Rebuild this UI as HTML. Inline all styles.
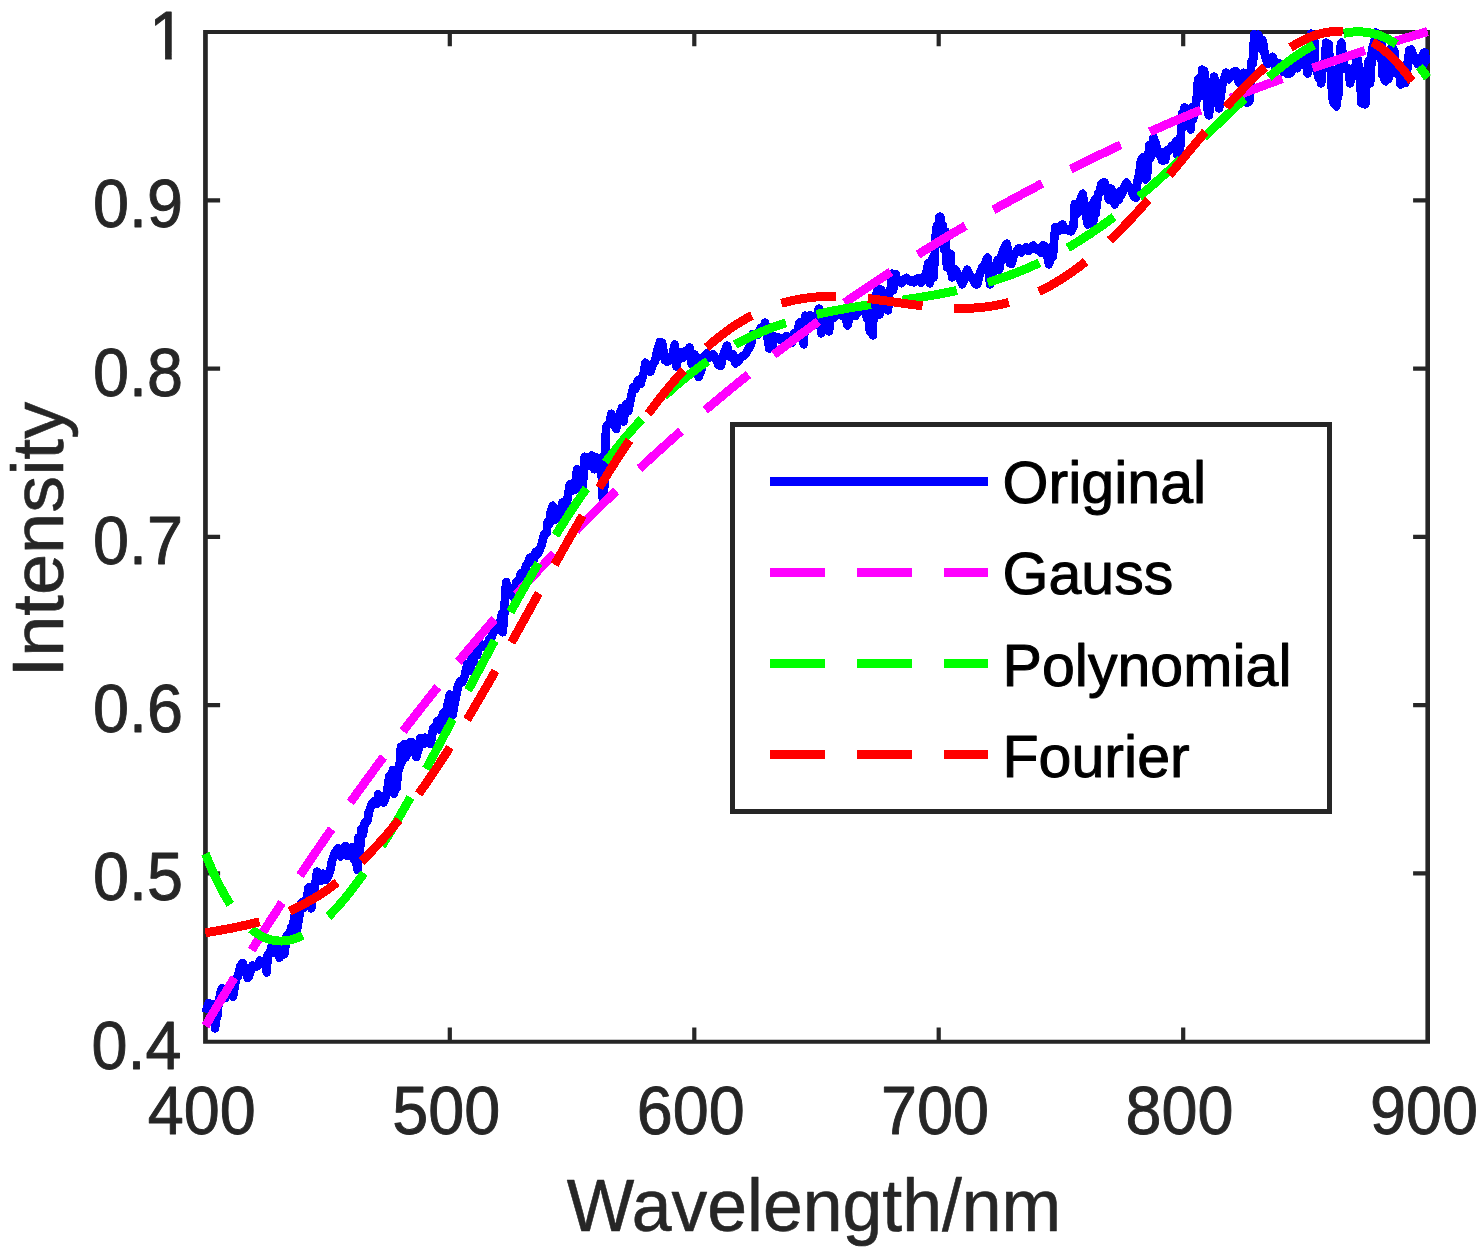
<!DOCTYPE html>
<html lang="en"><head><meta charset="utf-8"><title>Spectrum fitting comparison</title>
<style>html,body{margin:0;padding:0;background:#fff}body{width:1482px;height:1253px;overflow:hidden}svg{display:block}text{font-family:"Liberation Sans",sans-serif}</style>
</head><body>
<svg width="1482" height="1253" viewBox="0 0 1482 1253">
<rect width="1482" height="1253" fill="#fff"/>
<path fill="#262626" d="M203.1 30.0H207.8V1043.8H203.1Z M1425.4 30.0H1430.0V1043.8H1425.4Z M203.1 30.0H1430.0V34.0H203.1Z M203.1 1039.7H1430.0V1043.8H203.1Z M447.7 1027.4H451.9V1040.7H447.7Z M447.7 33.0H451.9V46.3H447.7Z M692.2 1027.4H696.4V1040.7H692.2Z M692.2 33.0H696.4V46.3H692.2Z M936.6 1027.4H940.8V1040.7H936.6Z M936.6 33.0H940.8V46.3H936.6Z M1181.1 1027.4H1185.3V1040.7H1181.1Z M1181.1 33.0H1185.3V46.3H1181.1Z M206.8 871.3H220.1V875.5H206.8Z M1413.1 871.3H1426.4V875.5H1413.1Z M206.8 703.0H220.1V707.2H206.8Z M1413.1 703.0H1426.4V707.2H1413.1Z M206.8 534.7H220.1V538.9H206.8Z M1413.1 534.7H1426.4V538.9H1413.1Z M206.8 366.5H220.1V370.7H206.8Z M1413.1 366.5H1426.4V370.7H1413.1Z M206.8 198.2H220.1V202.4H206.8Z M1413.1 198.2H1426.4V202.4H1413.1Z"/>
<g font-size="68.3" fill="#262626" stroke="#262626" stroke-width="0.9" stroke-linejoin="round">
<text transform="translate(181.5 1068.6) scale(0.948 1)" text-anchor="end">0.4</text>
<text transform="translate(183.0 900.3) scale(0.948 1)" text-anchor="end">0.5</text>
<text transform="translate(183.0 732.0) scale(0.948 1)" text-anchor="end">0.6</text>
<text transform="translate(183.0 563.7) scale(0.948 1)" text-anchor="end">0.7</text>
<text transform="translate(183.0 395.5) scale(0.948 1)" text-anchor="end">0.8</text>
<text transform="translate(183.0 227.2) scale(0.948 1)" text-anchor="end">0.9</text>
<clipPath id="one"><path d="M140 0H200V52.8H171.7V64H165.1V52.8H140Z"/></clipPath>
<g clip-path="url(#one)">
<text transform="translate(185.2 58.9) scale(0.948 1)" text-anchor="end">1</text>
</g>
<text transform="translate(201.8 1134.3) scale(0.948 1)" text-anchor="middle">400</text>
<text transform="translate(446.2 1134.3) scale(0.948 1)" text-anchor="middle">500</text>
<text transform="translate(690.7 1134.3) scale(0.948 1)" text-anchor="middle">600</text>
<text transform="translate(935.1 1134.3) scale(0.948 1)" text-anchor="middle">700</text>
<text transform="translate(1179.6 1134.3) scale(0.948 1)" text-anchor="middle">800</text>
<text transform="translate(1424.0 1134.3) scale(0.948 1)" text-anchor="middle">900</text>
</g>
<g font-size="74" fill="#262626" stroke="#262626" stroke-width="0.6" stroke-linejoin="round" text-anchor="middle">
<text transform="translate(814.0 1230.7) scale(0.967 1)">Wavelength/nm</text>
<text transform="translate(63.4 539.6) scale(0.967 1) rotate(-90)">Intensity</text>
</g>
<clipPath id="plot"><rect x="201.6" y="26" width="1228.8" height="1018"/></clipPath>
<g clip-path="url(#plot)">
<g fill="none" stroke-width="8.7" stroke-linejoin="round" shape-rendering="crispEdges" transform="scale(1 1.030)">
<path stroke="#0000ff" d="M205.6 983.20 L208.6 973.93 L210.0 974.56 L213.5 975.44 L215.0 998.25 L216.0 987.84 L217.2 987.11 L218.4 974.64 L220.0 966.80 L220.8 962.93 L222.1 959.36 L223.3 968.67 L225.0 968.94 L228.2 964.23 L230.0 961.36 L233.0 967.39 L236.0 950.29 L237.9 948.26 L240.5 937.67 L242.8 935.04 L245.0 942.21 L247.7 949.25 L249.0 947.77 L250.1 943.67 L252.3 937.67 L255.0 938.30 L258.0 937.74 L259.9 932.73 L262.0 933.67 L264.8 933.56 L266.6 943.88 L267.8 926.99 L269.6 925.85 L272.1 917.88 L275.0 925.21 L277.0 922.68 L279.4 929.73 L281.0 917.67 L284.3 926.34 L286.7 908.29 L288.0 912.82 L290.0 905.29 L291.6 899.95 L293.0 897.86 L294.0 892.95 L295.3 885.43 L296.5 905.06 L299.0 890.66 L301.5 876.50 L303.8 881.62 L306.0 876.15 L308.7 861.63 L309.9 877.19 L311.3 881.75 L312.3 873.43 L313.0 861.94 L313.6 869.00 L314.8 861.69 L316.0 853.27 L317.2 846.34 L318.0 848.35 L320.9 855.35 L323.0 848.48 L325.8 854.14 L328.2 850.68 L330.6 843.35 L332.0 835.99 L335.0 827.96 L338.0 823.88 L340.4 831.30 L343.0 825.05 L345.3 821.55 L347.7 830.94 L350.0 828.93 L352.6 822.42 L353.8 834.38 L355.0 824.54 L356.3 828.21 L356.9 840.97 L357.5 844.42 L358.4 813.40 L359.9 825.43 L361.4 805.15 L362.4 810.96 L363.6 806.66 L364.8 798.95 L367.5 796.99 L368.7 788.83 L372.1 780.10 L374.6 777.86 L376.7 780.58 L378.3 771.36 L379.4 774.01 L381.9 772.97 L383.7 779.13 L387.0 768.93 L389.2 753.95 L391.8 764.27 L392.9 747.56 L394.1 770.27 L395.3 758.86 L396.5 765.11 L397.4 756.02 L399.0 742.72 L400.2 743.59 L400.9 725.24 L402.6 738.28 L403.8 722.82 L406.0 734.95 L408.7 722.03 L411.0 720.39 L413.6 724.44 L416.2 734.95 L418.5 726.94 L420.3 716.80 L423.0 722.33 L424.9 716.31 L428.2 717.29 L430.7 722.24 L433.1 707.22 L435.1 708.06 L437.6 699.90 L440.4 708.35 L442.9 693.36 L443.9 691.75 L445.3 697.60 L447.0 687.38 L449.8 674.27 L452.6 693.96 L454.9 681.07 L458.0 666.02 L460.0 661.63 L462.4 661.89 L463.7 658.93 L464.8 655.86 L467.3 645.10 L470.1 650.78 L472.2 628.33 L473.4 642.62 L474.6 628.61 L475.7 634.37 L477.0 636.09 L479.5 624.19 L481.9 627.83 L484.0 626.80 L486.8 629.24 L489.2 620.78 L491.3 619.22 L494.1 611.08 L496.6 609.41 L497.7 610.97 L499.0 610.22 L500.6 602.82 L501.9 596.31 L502.7 613.72 L503.9 601.42 L504.7 586.41 L506.1 565.15 L507.5 576.79 L508.8 576.68 L511.6 573.30 L513.6 579.72 L516.1 565.80 L519.2 563.50 L520.9 556.99 L523.4 561.30 L525.9 549.61 L528.3 545.74 L530.1 541.46 L533.2 545.19 L536.0 535.63 L538.0 537.44 L541.5 529.13 L542.9 523.73 L544.1 519.28 L545.4 518.45 L546.6 517.28 L547.8 506.89 L549.3 509.03 L550.3 499.03 L552.7 491.12 L554.0 501.46 L555.1 504.49 L557.5 497.57 L560.0 501.05 L562.4 487.99 L564.5 492.72 L567.5 484.47 L569.8 470.36 L571.7 476.31 L574.6 475.54 L577.1 455.79 L578.3 462.75 L579.3 468.16 L580.7 471.29 L582.0 476.90 L583.8 459.90 L584.8 443.59 L586.8 452.50 L589.4 450.10 L591.7 442.32 L594.2 455.45 L596.2 443.98 L597.8 448.35 L599.0 456.10 L600.3 444.64 L601.2 448.54 L602.7 483.61 L603.9 483.69 L604.8 451.75 L605.5 427.18 L606.2 414.56 L607.2 412.91 L608.8 411.57 L610.2 408.83 L611.2 401.86 L613.7 408.28 L616.1 416.50 L619.0 403.88 L622.0 396.12 L623.4 409.03 L626.5 392.23 L628.3 399.03 L631.0 385.92 L633.2 376.14 L635.2 377.67 L638.0 369.51 L640.5 372.82 L643.9 361.36 L645.4 352.22 L648.0 358.25 L650.3 360.77 L653.2 353.11 L655.2 350.11 L657.0 341.75 L660.0 332.24 L662.1 332.72 L664.9 349.45 L667.1 351.07 L669.8 349.23 L672.2 346.43 L674.7 334.76 L676.4 355.63 L679.6 341.85 L682.7 347.38 L684.4 341.76 L686.9 340.32 L689.5 337.57 L691.8 353.60 L694.5 344.17 L696.6 346.98 L698.7 365.83 L701.5 358.54 L703.8 346.60 L706.4 343.50 L708.8 347.19 L711.3 345.51 L713.1 344.17 L716.2 348.51 L718.6 354.56 L721.0 355.06 L723.0 345.44 L727.0 335.73 L728.4 342.82 L731.0 346.92 L733.2 344.07 L735.4 352.62 L738.1 350.86 L740.0 347.77 L743.0 345.66 L745.5 343.88 L747.9 339.77 L751.0 334.21 L752.8 324.43 L755.2 325.02 L757.4 325.05 L761.0 318.25 L762.5 321.21 L765.0 313.40 L767.0 324.55 L769.2 338.06 L772.3 337.56 L774.0 326.90 L777.2 327.40 L779.0 327.96 L782.0 330.87 L784.0 328.11 L786.9 326.44 L789.4 331.26 L791.8 332.63 L794.0 323.51 L796.7 324.20 L799.5 313.40 L802.0 318.64 L803.6 334.17 L805.3 306.60 L806.4 308.86 L809.0 312.43 L810.1 306.17 L811.3 306.86 L813.7 313.95 L816.2 311.94 L818.8 299.81 L821.3 323.50 L823.5 311.06 L825.0 311.84 L828.9 321.55 L830.6 309.51 L833.3 308.78 L835.0 306.60 L839.0 302.72 L840.6 305.85 L843.0 306.07 L845.5 308.15 L847.5 315.73 L850.4 303.56 L852.5 304.43 L855.2 306.83 L858.0 302.72 L860.1 300.41 L862.6 298.47 L864.3 299.81 L867.4 309.72 L869.0 306.99 L869.9 321.97 L871.1 312.63 L872.8 325.44 L873.5 300.68 L874.8 305.97 L876.0 293.01 L877.2 280.87 L878.4 298.98 L879.6 305.23 L881.2 281.36 L884.0 289.55 L887.0 289.12 L888.0 301.17 L889.4 282.78 L891.0 279.59 L891.8 265.90 L893.1 281.78 L894.7 266.80 L895.5 266.04 L896.7 272.62 L899.0 271.65 L901.6 274.80 L904.8 270.78 L906.5 269.84 L910.0 273.01 L911.4 272.24 L913.8 273.93 L916.6 271.10 L918.7 270.19 L920.0 270.08 L921.1 274.29 L923.4 271.07 L926.0 266.31 L928.4 255.63 L929.7 274.94 L931.0 263.30 L932.1 251.47 L933.5 269.13 L935.0 243.91 L935.8 228.23 L936.9 219.22 L938.2 223.84 L939.4 210.88 L940.3 210.49 L941.9 230.06 L943.0 219.22 L944.3 242.40 L945.3 225.05 L946.0 243.92 L947.0 259.42 L948.0 249.97 L949.2 255.69 L950.4 246.42 L952.0 269.13 L952.8 265.26 L955.4 261.95 L958.0 266.53 L960.2 271.37 L962.2 275.92 L965.0 269.65 L967.2 261.94 L971.0 269.16 L972.4 270.29 L975.7 275.92 L977.2 275.85 L980.0 265.29 L982.1 260.16 L984.0 258.06 L987.5 250.29 L989.0 259.71 L990.0 275.92 L991.9 268.79 L994.0 258.45 L996.8 260.06 L997.6 252.32 L999.2 261.72 L1002.0 246.41 L1004.1 241.08 L1006.7 236.70 L1010.0 255.53 L1011.4 255.88 L1013.8 248.10 L1016.9 243.84 L1018.7 241.17 L1021.2 245.04 L1024.0 242.06 L1026.0 240.18 L1028.5 243.70 L1032.0 239.55 L1033.4 238.69 L1035.8 241.88 L1038.8 241.63 L1040.7 245.16 L1043.1 238.20 L1045.5 239.61 L1048.9 256.50 L1050.4 252.13 L1051.7 243.90 L1052.9 249.13 L1054.0 234.58 L1055.3 220.53 L1056.5 224.69 L1057.8 224.69 L1059.0 222.14 L1060.2 219.45 L1062.6 217.97 L1065.0 223.16 L1067.5 223.08 L1070.9 224.47 L1072.4 221.59 L1073.6 219.38 L1074.8 198.23 L1076.1 202.31 L1077.0 207.57 L1078.5 205.43 L1079.7 195.89 L1082.7 188.16 L1085.0 203.51 L1087.7 217.67 L1089.5 205.80 L1091.9 198.43 L1093.1 216.24 L1094.5 194.37 L1095.6 207.72 L1096.8 197.50 L1098.0 188.16 L1099.2 187.64 L1101.2 179.42 L1104.1 176.91 L1106.0 181.36 L1109.0 193.91 L1111.3 183.30 L1114.7 198.25 L1116.3 193.44 L1118.8 194.09 L1120.0 185.63 L1121.2 189.60 L1123.6 183.46 L1126.5 177.48 L1128.5 182.14 L1131.0 182.72 L1133.4 189.71 L1135.0 191.46 L1135.8 191.77 L1137.1 178.42 L1138.0 173.15 L1139.5 167.80 L1140.9 156.12 L1141.9 154.20 L1143.2 152.87 L1144.0 162.89 L1145.6 174.04 L1146.8 172.04 L1148.0 160.01 L1149.3 140.79 L1150.0 153.83 L1151.7 149.44 L1152.9 141.41 L1153.5 133.79 L1154.1 137.76 L1155.4 137.97 L1158.0 149.19 L1160.2 147.33 L1161.9 155.53 L1165.1 155.33 L1167.0 146.34 L1170.0 144.99 L1172.0 141.55 L1175.0 141.94 L1176.1 137.33 L1177.3 150.00 L1178.8 146.80 L1179.8 148.18 L1181.0 129.38 L1182.2 109.77 L1183.9 108.54 L1184.6 104.29 L1185.9 108.99 L1187.0 118.13 L1190.0 121.55 L1190.7 125.51 L1192.0 104.39 L1193.2 115.33 L1194.4 108.47 L1196.0 99.77 L1196.8 94.50 L1198.1 77.25 L1199.3 78.99 L1200.5 93.04 L1202.1 67.77 L1202.9 91.16 L1204.2 69.02 L1205.0 89.93 L1206.6 88.60 L1207.8 106.86 L1208.9 111.84 L1210.3 100.13 L1211.0 88.97 L1212.7 87.15 L1214.0 74.56 L1215.1 78.20 L1216.4 81.56 L1217.0 88.54 L1219.1 105.05 L1222.0 83.69 L1224.2 76.50 L1226.1 70.65 L1228.6 76.83 L1230.0 73.59 L1233.4 69.89 L1236.1 69.71 L1238.3 78.77 L1240.0 80.69 L1243.2 70.82 L1245.0 91.46 L1245.6 75.57 L1246.9 99.41 L1248.1 99.15 L1249.7 97.28 L1250.5 70.71 L1251.7 59.44 L1253.0 61.94 L1254.2 33.61 L1255.0 42.52 L1256.6 42.35 L1258.2 33.79 L1259.1 35.52 L1261.0 47.38 L1262.7 39.13 L1265.0 53.59 L1267.6 62.07 L1270.0 58.45 L1272.5 55.30 L1275.2 65.08 L1277.4 61.18 L1279.8 62.05 L1283.0 69.73 L1284.7 66.37 L1287.1 71.43 L1290.5 71.07 L1292.0 68.33 L1294.4 62.16 L1297.3 66.11 L1299.3 61.40 L1302.4 54.17 L1304.2 63.08 L1305.4 51.16 L1306.6 64.62 L1307.5 71.07 L1309.0 52.23 L1310.3 49.07 L1310.9 32.82 L1311.5 52.21 L1312.7 34.67 L1314.0 35.44 L1315.0 58.59 L1316.4 68.12 L1317.6 70.86 L1318.8 75.66 L1320.1 74.85 L1321.1 80.78 L1322.5 66.64 L1324.0 61.94 L1324.9 59.33 L1326.2 41.55 L1327.4 54.04 L1328.6 42.93 L1329.8 61.95 L1331.0 69.13 L1332.3 94.35 L1333.5 99.71 L1334.7 100.55 L1336.4 103.11 L1337.1 96.44 L1338.4 91.29 L1339.0 69.58 L1339.6 57.42 L1340.8 43.96 L1341.5 41.55 L1343.2 59.36 L1344.5 66.71 L1346.0 66.80 L1346.9 66.63 L1348.1 66.48 L1349.3 69.51 L1350.0 80.78 L1354.0 66.80 L1355.4 64.59 L1357.0 57.09 L1357.9 57.88 L1359.1 71.40 L1360.0 73.98 L1361.5 100.03 L1362.8 93.26 L1363.6 99.22 L1365.2 101.17 L1366.4 73.73 L1368.0 64.27 L1368.9 58.72 L1370.1 80.84 L1371.3 61.84 L1372.0 47.38 L1373.7 42.73 L1375.0 38.04 L1375.5 31.84 L1376.2 34.20 L1377.4 51.34 L1378.6 41.17 L1380.0 55.59 L1381.1 38.60 L1382.3 72.30 L1383.5 67.42 L1384.7 77.31 L1385.7 78.83 L1387.2 65.82 L1388.4 76.63 L1389.0 60.47 L1389.6 48.75 L1390.8 63.27 L1392.0 44.18 L1392.6 46.41 L1394.5 50.46 L1395.7 69.17 L1396.9 71.70 L1398.0 62.97 L1399.4 71.86 L1400.6 81.86 L1402.8 80.78 L1404.2 70.01 L1405.5 80.09 L1407.0 61.87 L1407.9 65.71 L1409.1 48.92 L1411.3 48.35 L1414.0 57.32 L1416.0 57.04 L1418.0 62.33 L1421.0 56.57 L1423.8 51.46 L1424.9 51.26 L1426.2 61.41 L1428.3 62.33"/>
<path stroke="#ff00ff" stroke-dasharray="55.2 31.8" d="M205.4 996.02 L207.4 992.75 L209.4 989.48 L211.4 986.23 L213.4 982.98 L215.4 979.74 L217.4 976.51 L219.4 973.29 L221.4 970.07 L223.4 966.86 L225.4 963.66 L227.4 960.47 L229.4 957.29 L231.4 954.11 L233.4 950.94 L235.4 947.78 L237.4 944.63 L239.4 941.48 L241.4 938.35 L243.4 935.22 L245.4 932.10 L247.4 928.98 L249.4 925.88 L251.4 922.78 L253.4 919.69 L255.4 916.61 L257.4 913.53 L259.4 910.47 L261.4 907.41 L263.4 904.36 L265.4 901.31 L267.4 898.28 L269.4 895.25 L271.4 892.23 L273.4 889.22 L275.4 886.21 L277.4 883.22 L279.4 880.23 L281.4 877.25 L283.4 874.27 L285.4 871.31 L287.4 868.35 L289.4 865.40 L291.4 862.45 L293.4 859.52 L295.4 856.59 L297.4 853.67 L299.4 850.75 L301.4 847.85 L303.4 844.95 L305.4 842.06 L307.4 839.18 L309.4 836.30 L311.4 833.43 L313.4 830.57 L315.4 827.72 L317.4 824.88 L319.4 822.04 L321.4 819.21 L323.4 816.39 L325.4 813.57 L327.4 810.76 L329.4 807.96 L331.4 805.17 L333.4 802.38 L335.4 799.60 L337.4 796.83 L339.4 794.07 L341.4 791.31 L343.4 788.56 L345.4 785.82 L347.4 783.09 L349.4 780.36 L351.4 777.64 L353.4 774.93 L355.4 772.22 L357.4 769.53 L359.4 766.84 L361.4 764.15 L363.4 761.48 L365.4 758.81 L367.4 756.14 L369.4 753.49 L371.4 750.84 L373.4 748.20 L375.4 745.57 L377.4 742.94 L379.4 740.32 L381.4 737.71 L383.4 735.11 L385.4 732.51 L387.4 729.92 L389.4 727.34 L391.4 724.76 L393.4 722.19 L395.4 719.63 L397.4 717.07 L399.4 714.52 L401.4 711.98 L403.4 709.45 L405.4 706.92 L407.4 704.40 L409.4 701.88 L411.4 699.38 L413.4 696.88 L415.4 694.38 L417.4 691.90 L419.4 689.42 L421.4 686.95 L423.4 684.48 L425.4 682.02 L427.4 679.57 L429.4 677.12 L431.4 674.69 L433.4 672.25 L435.4 669.83 L437.4 667.41 L439.4 665.00 L441.4 662.59 L443.4 660.19 L445.4 657.80 L447.4 655.42 L449.4 653.04 L451.4 650.67 L453.4 648.30 L455.4 645.94 L457.4 643.59 L459.4 641.25 L461.4 638.91 L463.4 636.57 L465.4 634.25 L467.4 631.93 L469.4 629.62 L471.4 627.31 L473.4 625.01 L475.4 622.72 L477.4 620.43 L479.4 618.15 L481.4 615.87 L483.4 613.61 L485.4 611.34 L487.4 609.09 L489.4 606.84 L491.4 604.60 L493.4 602.36 L495.4 600.13 L497.4 597.91 L499.4 595.69 L501.4 593.48 L503.4 591.27 L505.4 589.07 L507.4 586.88 L509.4 584.70 L511.4 582.52 L513.4 580.34 L515.4 578.17 L517.4 576.01 L519.4 573.86 L521.4 571.71 L523.4 569.56 L525.4 567.43 L527.4 565.29 L529.4 563.17 L531.4 561.05 L533.4 558.94 L535.4 556.83 L537.4 554.73 L539.4 552.63 L541.4 550.54 L543.4 548.46 L545.4 546.38 L547.4 544.31 L549.4 542.25 L551.4 540.19 L553.4 538.13 L555.4 536.08 L557.4 534.04 L559.4 532.00 L561.4 529.97 L563.4 527.95 L565.4 525.93 L567.4 523.92 L569.4 521.91 L571.4 519.91 L573.4 517.91 L575.4 515.92 L577.4 513.94 L579.4 511.96 L581.4 509.98 L583.4 508.02 L585.4 506.05 L587.4 504.10 L589.4 502.15 L591.4 500.20 L593.4 498.26 L595.4 496.33 L597.4 494.40 L599.4 492.47 L601.4 490.56 L603.4 488.64 L605.4 486.74 L607.4 484.84 L609.4 482.94 L611.4 481.05 L613.4 479.16 L615.4 477.28 L617.4 475.41 L619.4 473.54 L621.4 471.68 L623.4 469.82 L625.4 467.97 L627.4 466.12 L629.4 464.28 L631.4 462.44 L633.4 460.61 L635.4 458.78 L637.4 456.96 L639.4 455.14 L641.4 453.33 L643.4 451.53 L645.4 449.73 L647.4 447.93 L649.4 446.14 L651.4 444.36 L653.4 442.58 L655.4 440.80 L657.4 439.03 L659.4 437.27 L661.4 435.51 L663.4 433.76 L665.4 432.01 L667.4 430.26 L669.4 428.52 L671.4 426.79 L673.4 425.06 L675.4 423.33 L677.4 421.62 L679.4 419.90 L681.4 418.19 L683.4 416.49 L685.4 414.79 L687.4 413.09 L689.4 411.40 L691.4 409.72 L693.4 408.04 L695.4 406.36 L697.4 404.69 L699.4 403.03 L701.4 401.36 L703.4 399.71 L705.4 398.06 L707.4 396.41 L709.4 394.77 L711.4 393.13 L713.4 391.50 L715.4 389.87 L717.4 388.25 L719.4 386.63 L721.4 385.02 L723.4 383.41 L725.4 381.80 L727.4 380.20 L729.4 378.61 L731.4 377.02 L733.4 375.43 L735.4 373.85 L737.4 372.27 L739.4 370.70 L741.4 369.13 L743.4 367.57 L745.4 366.01 L747.4 364.45 L749.4 362.90 L751.4 361.36 L753.4 359.82 L755.4 358.28 L757.4 356.75 L759.4 355.22 L761.4 353.70 L763.4 352.18 L765.4 350.66 L767.4 349.15 L769.4 347.65 L771.4 346.15 L773.4 344.65 L775.4 343.16 L777.4 341.67 L779.4 340.18 L781.4 338.70 L783.4 337.23 L785.4 335.76 L787.4 334.29 L789.4 332.82 L791.4 331.37 L793.4 329.91 L795.4 328.46 L797.4 327.01 L799.4 325.57 L801.4 324.13 L803.4 322.70 L805.4 321.27 L807.4 319.85 L809.4 318.42 L811.4 317.01 L813.4 315.59 L815.4 314.18 L817.4 312.78 L819.4 311.38 L821.4 309.98 L823.4 308.59 L825.4 307.20 L827.4 305.81 L829.4 304.43 L831.4 303.05 L833.4 301.68 L835.4 300.31 L837.4 298.95 L839.4 297.59 L841.4 296.23 L843.4 294.88 L845.4 293.53 L847.4 292.18 L849.4 290.84 L851.4 289.50 L853.4 288.17 L855.4 286.84 L857.4 285.51 L859.4 284.19 L861.4 282.87 L863.4 281.55 L865.4 280.24 L867.4 278.94 L869.4 277.63 L871.4 276.33 L873.4 275.04 L875.4 273.74 L877.4 272.46 L879.4 271.17 L881.4 269.89 L883.4 268.61 L885.4 267.34 L887.4 266.07 L889.4 264.80 L891.4 263.54 L893.4 262.28 L895.4 261.03 L897.4 259.77 L899.4 258.53 L901.4 257.28 L903.4 256.04 L905.4 254.80 L907.4 253.57 L909.4 252.34 L911.4 251.11 L913.4 249.89 L915.4 248.67 L917.4 247.45 L919.4 246.24 L921.4 245.03 L923.4 243.83 L925.4 242.63 L927.4 241.43 L929.4 240.23 L931.4 239.04 L933.4 237.85 L935.4 236.67 L937.4 235.49 L939.4 234.31 L941.4 233.14 L943.4 231.97 L945.4 230.80 L947.4 229.63 L949.4 228.47 L951.4 227.32 L953.4 226.16 L955.4 225.01 L957.4 223.86 L959.4 222.72 L961.4 221.58 L963.4 220.44 L965.4 219.31 L967.4 218.18 L969.4 217.05 L971.4 215.93 L973.4 214.81 L975.4 213.69 L977.4 212.58 L979.4 211.46 L981.4 210.36 L983.4 209.25 L985.4 208.15 L987.4 207.05 L989.4 205.96 L991.4 204.87 L993.4 203.78 L995.4 202.69 L997.4 201.61 L999.4 200.53 L1001.4 199.46 L1003.4 198.39 L1005.4 197.32 L1007.4 196.25 L1009.4 195.19 L1011.4 194.13 L1013.4 193.07 L1015.4 192.02 L1017.4 190.97 L1019.4 189.92 L1021.4 188.88 L1023.4 187.83 L1025.4 186.80 L1027.4 185.76 L1029.4 184.73 L1031.4 183.70 L1033.4 182.67 L1035.4 181.65 L1037.4 180.63 L1039.4 179.61 L1041.4 178.60 L1043.4 177.59 L1045.4 176.58 L1047.4 175.58 L1049.4 174.58 L1051.4 173.58 L1053.4 172.58 L1055.4 171.59 L1057.4 170.60 L1059.4 169.61 L1061.4 168.63 L1063.4 167.64 L1065.4 166.67 L1067.4 165.69 L1069.4 164.72 L1071.4 163.75 L1073.4 162.78 L1075.4 161.82 L1077.4 160.86 L1079.4 159.90 L1081.4 158.94 L1083.4 157.99 L1085.4 157.04 L1087.4 156.10 L1089.4 155.15 L1091.4 154.21 L1093.4 153.27 L1095.4 152.34 L1097.4 151.41 L1099.4 150.48 L1101.4 149.55 L1103.4 148.63 L1105.4 147.70 L1107.4 146.79 L1109.4 145.87 L1111.4 144.96 L1113.4 144.05 L1115.4 143.14 L1117.4 142.23 L1119.4 141.33 L1121.4 140.43 L1123.4 139.54 L1125.4 138.64 L1127.4 137.75 L1129.4 136.86 L1131.4 135.98 L1133.4 135.09 L1135.4 134.21 L1137.4 133.34 L1139.4 132.46 L1141.4 131.59 L1143.4 130.72 L1145.4 129.85 L1147.4 128.99 L1149.4 128.13 L1151.4 127.27 L1153.4 126.41 L1155.4 125.56 L1157.4 124.70 L1159.4 123.86 L1161.4 123.01 L1163.4 122.17 L1165.4 121.33 L1167.4 120.49 L1169.4 119.65 L1171.4 118.82 L1173.4 117.99 L1175.4 117.16 L1177.4 116.33 L1179.4 115.51 L1181.4 114.69 L1183.4 113.87 L1185.4 113.06 L1187.4 112.24 L1189.4 111.43 L1191.4 110.62 L1193.4 109.82 L1195.4 109.02 L1197.4 108.22 L1199.4 107.42 L1201.4 106.62 L1203.4 105.83 L1205.4 105.04 L1207.4 104.25 L1209.4 103.46 L1211.4 102.68 L1213.4 101.90 L1215.4 101.12 L1217.4 100.34 L1219.4 99.57 L1221.4 98.80 L1223.4 98.03 L1225.4 97.26 L1227.4 96.50 L1229.4 95.74 L1231.4 94.98 L1233.4 94.22 L1235.4 93.46 L1237.4 92.71 L1239.4 91.96 L1241.4 91.21 L1243.4 90.47 L1245.4 89.72 L1247.4 88.98 L1249.4 88.24 L1251.4 87.51 L1253.4 86.77 L1255.4 86.04 L1257.4 85.31 L1259.4 84.59 L1261.4 83.86 L1263.4 83.14 L1265.4 82.42 L1267.4 81.70 L1269.4 80.98 L1271.4 80.27 L1273.4 79.56 L1275.4 78.85 L1277.4 78.14 L1279.4 77.43 L1281.4 76.73 L1283.4 76.03 L1285.4 75.33 L1287.4 74.63 L1289.4 73.94 L1291.4 73.25 L1293.4 72.56 L1295.4 71.87 L1297.4 71.18 L1299.4 70.50 L1301.4 69.82 L1303.4 69.14 L1305.4 68.46 L1307.4 67.78 L1309.4 67.11 L1311.4 66.44 L1313.4 65.77 L1315.4 65.10 L1317.4 64.44 L1319.4 63.77 L1321.4 63.11 L1323.4 62.45 L1325.4 61.80 L1327.4 61.14 L1329.4 60.49 L1331.4 59.83 L1333.4 59.19 L1335.4 58.54 L1337.4 57.89 L1339.4 57.25 L1341.4 56.61 L1343.4 55.97 L1345.4 55.33 L1347.4 54.69 L1349.4 54.06 L1351.4 53.43 L1353.4 52.80 L1355.4 52.17 L1357.4 51.54 L1359.4 50.92 L1361.4 50.29 L1363.4 49.67 L1365.4 49.05 L1367.4 48.43 L1369.4 47.82 L1371.4 47.20 L1373.4 46.59 L1375.4 45.98 L1377.4 45.37 L1379.4 44.77 L1381.4 44.16 L1383.4 43.56 L1385.4 42.95 L1387.4 42.35 L1389.4 41.76 L1391.4 41.16 L1393.4 40.56 L1395.4 39.97 L1397.4 39.38 L1399.4 38.79 L1401.4 38.20 L1403.4 37.61 L1405.4 37.03 L1407.4 36.44 L1409.4 35.86 L1411.4 35.28 L1413.4 34.70 L1415.4 34.12 L1417.4 33.54 L1419.4 32.97 L1421.4 32.40 L1423.4 31.82 L1425.4 31.25 L1427.6 30.63"/>
<path stroke="#00ff00" stroke-dasharray="55.2 31.8" d="M205.4 828.95 L207.4 833.80 L209.4 838.49 L211.4 843.01 L213.4 847.37 L215.4 851.57 L217.4 855.61 L219.4 859.49 L221.4 863.23 L223.4 866.81 L225.4 870.24 L227.4 873.53 L229.4 876.67 L231.4 879.67 L233.4 882.53 L235.4 885.24 L237.4 887.83 L239.4 890.27 L241.4 892.58 L243.4 894.76 L245.4 896.81 L247.4 898.74 L249.4 900.53 L251.4 902.21 L253.4 903.76 L255.4 905.19 L257.4 906.50 L259.4 907.69 L261.4 908.77 L263.4 909.74 L265.4 910.60 L267.4 911.34 L269.4 911.98 L271.4 912.51 L273.4 912.93 L275.4 913.26 L277.4 913.48 L279.4 913.60 L281.4 913.62 L283.4 913.55 L285.4 913.38 L287.4 913.12 L289.4 912.76 L291.4 912.32 L293.4 911.79 L295.4 911.17 L297.4 910.46 L299.4 909.67 L301.4 908.80 L303.4 907.85 L305.4 906.82 L307.4 905.71 L309.4 904.52 L311.4 903.26 L313.4 901.92 L315.4 900.51 L317.4 899.03 L319.4 897.48 L321.4 895.87 L323.4 894.18 L325.4 892.43 L327.4 890.62 L329.4 888.74 L331.4 886.80 L333.4 884.81 L335.4 882.75 L337.4 880.63 L339.4 878.46 L341.4 876.24 L343.4 873.95 L345.4 871.62 L347.4 869.24 L349.4 866.80 L351.4 864.32 L353.4 861.79 L355.4 859.21 L357.4 856.58 L359.4 853.92 L361.4 851.20 L363.4 848.45 L365.4 845.66 L367.4 842.82 L369.4 839.95 L371.4 837.04 L373.4 834.09 L375.4 831.11 L377.4 828.09 L379.4 825.04 L381.4 821.95 L383.4 818.84 L385.4 815.69 L387.4 812.52 L389.4 809.31 L391.4 806.08 L393.4 802.82 L395.4 799.54 L397.4 796.23 L399.4 792.90 L401.4 789.55 L403.4 786.17 L405.4 782.77 L407.4 779.35 L409.4 775.92 L411.4 772.46 L413.4 768.99 L415.4 765.50 L417.4 761.99 L419.4 758.47 L421.4 754.94 L423.4 751.39 L425.4 747.83 L427.4 744.26 L429.4 740.67 L431.4 737.08 L433.4 733.48 L435.4 729.87 L437.4 726.25 L439.4 722.62 L441.4 718.98 L443.4 715.34 L445.4 711.70 L447.4 708.05 L449.4 704.40 L451.4 700.74 L453.4 697.08 L455.4 693.42 L457.4 689.76 L459.4 686.09 L461.4 682.43 L463.4 678.77 L465.4 675.11 L467.4 671.45 L469.4 667.79 L471.4 664.14 L473.4 660.49 L475.4 656.84 L477.4 653.20 L479.4 649.57 L481.4 645.94 L483.4 642.31 L485.4 638.70 L487.4 635.09 L489.4 631.49 L491.4 627.89 L493.4 624.31 L495.4 620.73 L497.4 617.17 L499.4 613.61 L501.4 610.07 L503.4 606.54 L505.4 603.02 L507.4 599.51 L509.4 596.01 L511.4 592.52 L513.4 589.05 L515.4 585.59 L517.4 582.15 L519.4 578.72 L521.4 575.31 L523.4 571.91 L525.4 568.52 L527.4 565.16 L529.4 561.80 L531.4 558.47 L533.4 555.15 L535.4 551.85 L537.4 548.56 L539.4 545.30 L541.4 542.05 L543.4 538.82 L545.4 535.61 L547.4 532.41 L549.4 529.24 L551.4 526.09 L553.4 522.95 L555.4 519.84 L557.4 516.74 L559.4 513.67 L561.4 510.62 L563.4 507.58 L565.4 504.57 L567.4 501.58 L569.4 498.61 L571.4 495.67 L573.4 492.74 L575.4 489.84 L577.4 486.96 L579.4 484.10 L581.4 481.26 L583.4 478.45 L585.4 475.66 L587.4 472.89 L589.4 470.14 L591.4 467.42 L593.4 464.72 L595.4 462.05 L597.4 459.40 L599.4 456.77 L601.4 454.16 L603.4 451.58 L605.4 449.03 L607.4 446.50 L609.4 443.99 L611.4 441.50 L613.4 439.04 L615.4 436.61 L617.4 434.20 L619.4 431.81 L621.4 429.45 L623.4 427.11 L625.4 424.80 L627.4 422.51 L629.4 420.24 L631.4 418.00 L633.4 415.79 L635.4 413.60 L637.4 411.43 L639.4 409.29 L641.4 407.17 L643.4 405.08 L645.4 403.01 L647.4 400.97 L649.4 398.95 L651.4 396.96 L653.4 394.99 L655.4 393.04 L657.4 391.12 L659.4 389.23 L661.4 387.35 L663.4 385.50 L665.4 383.68 L667.4 381.88 L669.4 380.10 L671.4 378.35 L673.4 376.62 L675.4 374.92 L677.4 373.24 L679.4 371.58 L681.4 369.94 L683.4 368.33 L685.4 366.75 L687.4 365.18 L689.4 363.64 L691.4 362.12 L693.4 360.62 L695.4 359.15 L697.4 357.70 L699.4 356.27 L701.4 354.86 L703.4 353.48 L705.4 352.12 L707.4 350.78 L709.4 349.46 L711.4 348.16 L713.4 346.88 L715.4 345.63 L717.4 344.39 L719.4 343.18 L721.4 341.99 L723.4 340.82 L725.4 339.66 L727.4 338.53 L729.4 337.42 L731.4 336.33 L733.4 335.26 L735.4 334.20 L737.4 333.17 L739.4 332.16 L741.4 331.16 L743.4 330.18 L745.4 329.22 L747.4 328.28 L749.4 327.36 L751.4 326.46 L753.4 325.57 L755.4 324.70 L757.4 323.85 L759.4 323.01 L761.4 322.19 L763.4 321.39 L765.4 320.60 L767.4 319.83 L769.4 319.08 L771.4 318.34 L773.4 317.62 L775.4 316.91 L777.4 316.21 L779.4 315.53 L781.4 314.87 L783.4 314.22 L785.4 313.58 L787.4 312.96 L789.4 312.35 L791.4 311.75 L793.4 311.17 L795.4 310.60 L797.4 310.04 L799.4 309.49 L801.4 308.96 L803.4 308.43 L805.4 307.92 L807.4 307.42 L809.4 306.93 L811.4 306.45 L813.4 305.98 L815.4 305.52 L817.4 305.08 L819.4 304.64 L821.4 304.20 L823.4 303.78 L825.4 303.37 L827.4 302.97 L829.4 302.57 L831.4 302.18 L833.4 301.80 L835.4 301.43 L837.4 301.06 L839.4 300.70 L841.4 300.35 L843.4 300.00 L845.4 299.66 L847.4 299.33 L849.4 299.00 L851.4 298.67 L853.4 298.35 L855.4 298.04 L857.4 297.73 L859.4 297.42 L861.4 297.12 L863.4 296.82 L865.4 296.53 L867.4 296.23 L869.4 295.94 L871.4 295.66 L873.4 295.37 L875.4 295.09 L877.4 294.81 L879.4 294.53 L881.4 294.25 L883.4 293.97 L885.4 293.69 L887.4 293.41 L889.4 293.14 L891.4 292.86 L893.4 292.58 L895.4 292.30 L897.4 292.02 L899.4 291.74 L901.4 291.46 L903.4 291.17 L905.4 290.89 L907.4 290.60 L909.4 290.31 L911.4 290.01 L913.4 289.71 L915.4 289.41 L917.4 289.11 L919.4 288.80 L921.4 288.49 L923.4 288.17 L925.4 287.85 L927.4 287.52 L929.4 287.19 L931.4 286.86 L933.4 286.51 L935.4 286.17 L937.4 285.81 L939.4 285.45 L941.4 285.09 L943.4 284.71 L945.4 284.33 L947.4 283.95 L949.4 283.55 L951.4 283.15 L953.4 282.74 L955.4 282.32 L957.4 281.89 L959.4 281.46 L961.4 281.02 L963.4 280.56 L965.4 280.10 L967.4 279.63 L969.4 279.15 L971.4 278.66 L973.4 278.16 L975.4 277.65 L977.4 277.13 L979.4 276.60 L981.4 276.06 L983.4 275.51 L985.4 274.95 L987.4 274.37 L989.4 273.79 L991.4 273.19 L993.4 272.59 L995.4 271.97 L997.4 271.33 L999.4 270.69 L1001.4 270.03 L1003.4 269.36 L1005.4 268.68 L1007.4 267.99 L1009.4 267.28 L1011.4 266.56 L1013.4 265.83 L1015.4 265.09 L1017.4 264.33 L1019.4 263.55 L1021.4 262.77 L1023.4 261.97 L1025.4 261.15 L1027.4 260.33 L1029.4 259.48 L1031.4 258.63 L1033.4 257.76 L1035.4 256.88 L1037.4 255.98 L1039.4 255.06 L1041.4 254.14 L1043.4 253.20 L1045.4 252.24 L1047.4 251.27 L1049.4 250.28 L1051.4 249.28 L1053.4 248.27 L1055.4 247.24 L1057.4 246.19 L1059.4 245.13 L1061.4 244.06 L1063.4 242.97 L1065.4 241.86 L1067.4 240.74 L1069.4 239.61 L1071.4 238.46 L1073.4 237.29 L1075.4 236.11 L1077.4 234.92 L1079.4 233.71 L1081.4 232.48 L1083.4 231.24 L1085.4 229.98 L1087.4 228.71 L1089.4 227.43 L1091.4 226.13 L1093.4 224.81 L1095.4 223.49 L1097.4 222.14 L1099.4 220.78 L1101.4 219.41 L1103.4 218.02 L1105.4 216.62 L1107.4 215.20 L1109.4 213.77 L1111.4 212.33 L1113.4 210.87 L1115.4 209.40 L1117.4 207.91 L1119.4 206.42 L1121.4 204.90 L1123.4 203.38 L1125.4 201.84 L1127.4 200.29 L1129.4 198.72 L1131.4 197.14 L1133.4 195.55 L1135.4 193.95 L1137.4 192.34 L1139.4 190.71 L1141.4 189.07 L1143.4 187.42 L1145.4 185.76 L1147.4 184.09 L1149.4 182.41 L1151.4 180.71 L1153.4 179.01 L1155.4 177.30 L1157.4 175.57 L1159.4 173.84 L1161.4 172.09 L1163.4 170.34 L1165.4 168.58 L1167.4 166.81 L1169.4 165.03 L1171.4 163.25 L1173.4 161.45 L1175.4 159.65 L1177.4 157.84 L1179.4 156.03 L1181.4 154.21 L1183.4 152.38 L1185.4 150.55 L1187.4 148.71 L1189.4 146.87 L1191.4 145.02 L1193.4 143.17 L1195.4 141.31 L1197.4 139.45 L1199.4 137.59 L1201.4 135.73 L1203.4 133.86 L1205.4 131.99 L1207.4 130.12 L1209.4 128.25 L1211.4 126.38 L1213.4 124.51 L1215.4 122.64 L1217.4 120.77 L1219.4 118.90 L1221.4 117.04 L1223.4 115.18 L1225.4 113.32 L1227.4 111.46 L1229.4 109.61 L1231.4 107.76 L1233.4 105.92 L1235.4 104.08 L1237.4 102.25 L1239.4 100.43 L1241.4 98.61 L1243.4 96.80 L1245.4 95.00 L1247.4 93.21 L1249.4 91.43 L1251.4 89.66 L1253.4 87.90 L1255.4 86.16 L1257.4 84.42 L1259.4 82.70 L1261.4 81.00 L1263.4 79.30 L1265.4 77.62 L1267.4 75.96 L1269.4 74.32 L1271.4 72.69 L1273.4 71.08 L1275.4 69.49 L1277.4 67.92 L1279.4 66.37 L1281.4 64.83 L1283.4 63.33 L1285.4 61.84 L1287.4 60.38 L1289.4 58.94 L1291.4 57.53 L1293.4 56.14 L1295.4 54.78 L1297.4 53.44 L1299.4 52.14 L1301.4 50.86 L1303.4 49.62 L1305.4 48.40 L1307.4 47.22 L1309.4 46.07 L1311.4 44.96 L1313.4 43.88 L1315.4 42.83 L1317.4 41.82 L1319.4 40.85 L1321.4 39.92 L1323.4 39.02 L1325.4 38.17 L1327.4 37.36 L1329.4 36.59 L1331.4 35.87 L1333.4 35.18 L1335.4 34.55 L1337.4 33.96 L1339.4 33.42 L1341.4 32.93 L1343.4 32.49 L1345.4 32.10 L1347.4 31.76 L1349.4 31.47 L1351.4 31.24 L1353.4 31.07 L1355.4 30.95 L1357.4 30.89 L1359.4 30.89 L1361.4 30.94 L1363.4 31.07 L1365.4 31.25 L1367.4 31.50 L1369.4 31.81 L1371.4 32.19 L1373.4 32.63 L1375.4 33.15 L1377.4 33.73 L1379.4 34.39 L1381.4 35.12 L1383.4 35.92 L1385.4 36.80 L1387.4 37.76 L1389.4 38.80 L1391.4 39.91 L1393.4 41.11 L1395.4 42.38 L1397.4 43.75 L1399.4 45.19 L1401.4 46.73 L1403.4 48.35 L1405.4 50.06 L1407.4 51.86 L1409.4 53.76 L1411.4 55.75 L1413.4 57.83 L1415.4 60.02 L1417.4 62.30 L1419.4 64.68 L1421.4 67.16 L1423.4 69.75 L1425.4 72.44 L1427.6 75.52"/>
<path stroke="#ff0000" stroke-dasharray="55.2 31.8" d="M205.4 905.69 L207.4 905.35 L209.4 905.00 L211.4 904.66 L213.4 904.32 L215.4 903.98 L217.4 903.63 L219.4 903.29 L221.4 902.94 L223.4 902.59 L225.4 902.23 L227.4 901.87 L229.4 901.50 L231.4 901.13 L233.4 900.74 L235.4 900.35 L237.4 899.95 L239.4 899.55 L241.4 899.13 L243.4 898.70 L245.4 898.26 L247.4 897.81 L249.4 897.34 L251.4 896.86 L253.4 896.37 L255.4 895.86 L257.4 895.34 L259.4 894.80 L261.4 894.25 L263.4 893.67 L265.4 893.09 L267.4 892.48 L269.4 891.85 L271.4 891.21 L273.4 890.54 L275.4 889.86 L277.4 889.16 L279.4 888.43 L281.4 887.68 L283.4 886.91 L285.4 886.12 L287.4 885.31 L289.4 884.47 L291.4 883.61 L293.4 882.73 L295.4 881.82 L297.4 880.88 L299.4 879.93 L301.4 878.94 L303.4 877.93 L305.4 876.90 L307.4 875.83 L309.4 874.74 L311.4 873.63 L313.4 872.49 L315.4 871.31 L317.4 870.12 L319.4 868.89 L321.4 867.64 L323.4 866.35 L325.4 865.04 L327.4 863.70 L329.4 862.33 L331.4 860.93 L333.4 859.50 L335.4 858.04 L337.4 856.56 L339.4 855.04 L341.4 853.49 L343.4 851.91 L345.4 850.31 L347.4 848.67 L349.4 847.00 L351.4 845.30 L353.4 843.57 L355.4 841.81 L357.4 840.02 L359.4 838.20 L361.4 836.35 L363.4 834.47 L365.4 832.56 L367.4 830.61 L369.4 828.64 L371.4 826.64 L373.4 824.60 L375.4 822.54 L377.4 820.44 L379.4 818.32 L381.4 816.16 L383.4 813.98 L385.4 811.76 L387.4 809.52 L389.4 807.24 L391.4 804.94 L393.4 802.61 L395.4 800.25 L397.4 797.86 L399.4 795.44 L401.4 792.99 L403.4 790.51 L405.4 788.01 L407.4 785.48 L409.4 782.92 L411.4 780.33 L413.4 777.71 L415.4 775.07 L417.4 772.40 L419.4 769.71 L421.4 766.99 L423.4 764.24 L425.4 761.47 L427.4 758.68 L429.4 755.85 L431.4 753.01 L433.4 750.14 L435.4 747.24 L437.4 744.33 L439.4 741.39 L441.4 738.42 L443.4 735.44 L445.4 732.43 L447.4 729.40 L449.4 726.35 L451.4 723.28 L453.4 720.19 L455.4 717.08 L457.4 713.95 L459.4 710.80 L461.4 707.63 L463.4 704.45 L465.4 701.24 L467.4 698.02 L469.4 694.79 L471.4 691.53 L473.4 688.26 L475.4 684.98 L477.4 681.68 L479.4 678.36 L481.4 675.03 L483.4 671.69 L485.4 668.34 L487.4 664.97 L489.4 661.59 L491.4 658.20 L493.4 654.80 L495.4 651.39 L497.4 647.96 L499.4 644.53 L501.4 641.09 L503.4 637.65 L505.4 634.19 L507.4 630.73 L509.4 627.26 L511.4 623.78 L513.4 620.30 L515.4 616.81 L517.4 613.32 L519.4 609.83 L521.4 606.33 L523.4 602.83 L525.4 599.33 L527.4 595.82 L529.4 592.32 L531.4 588.81 L533.4 585.30 L535.4 581.80 L537.4 578.29 L539.4 574.79 L541.4 571.29 L543.4 567.79 L545.4 564.30 L547.4 560.81 L549.4 557.32 L551.4 553.84 L553.4 550.36 L555.4 546.89 L557.4 543.43 L559.4 539.97 L561.4 536.52 L563.4 533.08 L565.4 529.65 L567.4 526.23 L569.4 522.82 L571.4 519.41 L573.4 516.02 L575.4 512.64 L577.4 509.28 L579.4 505.92 L581.4 502.58 L583.4 499.25 L585.4 495.93 L587.4 492.63 L589.4 489.35 L591.4 486.08 L593.4 482.82 L595.4 479.59 L597.4 476.37 L599.4 473.16 L601.4 469.98 L603.4 466.81 L605.4 463.66 L607.4 460.53 L609.4 457.42 L611.4 454.33 L613.4 451.27 L615.4 448.22 L617.4 445.19 L619.4 442.19 L621.4 439.21 L623.4 436.25 L625.4 433.31 L627.4 430.40 L629.4 427.51 L631.4 424.65 L633.4 421.81 L635.4 418.99 L637.4 416.20 L639.4 413.44 L641.4 410.70 L643.4 407.99 L645.4 405.30 L647.4 402.64 L649.4 400.01 L651.4 397.41 L653.4 394.83 L655.4 392.29 L657.4 389.77 L659.4 387.28 L661.4 384.82 L663.4 382.39 L665.4 379.98 L667.4 377.61 L669.4 375.27 L671.4 372.96 L673.4 370.67 L675.4 368.42 L677.4 366.20 L679.4 364.01 L681.4 361.85 L683.4 359.73 L685.4 357.63 L687.4 355.57 L689.4 353.53 L691.4 351.53 L693.4 349.56 L695.4 347.63 L697.4 345.72 L699.4 343.85 L701.4 342.01 L703.4 340.20 L705.4 338.43 L707.4 336.68 L709.4 334.97 L711.4 333.30 L713.4 331.65 L715.4 330.04 L717.4 328.46 L719.4 326.91 L721.4 325.40 L723.4 323.91 L725.4 322.46 L727.4 321.05 L729.4 319.66 L731.4 318.31 L733.4 316.99 L735.4 315.70 L737.4 314.44 L739.4 313.22 L741.4 312.03 L743.4 310.87 L745.4 309.74 L747.4 308.64 L749.4 307.57 L751.4 306.54 L753.4 305.53 L755.4 304.56 L757.4 303.62 L759.4 302.70 L761.4 301.82 L763.4 300.97 L765.4 300.15 L767.4 299.35 L769.4 298.59 L771.4 297.85 L773.4 297.15 L775.4 296.47 L777.4 295.82 L779.4 295.20 L781.4 294.61 L783.4 294.04 L785.4 293.50 L787.4 292.99 L789.4 292.50 L791.4 292.04 L793.4 291.60 L795.4 291.19 L797.4 290.81 L799.4 290.45 L801.4 290.11 L803.4 289.80 L805.4 289.51 L807.4 289.25 L809.4 289.01 L811.4 288.79 L813.4 288.59 L815.4 288.41 L817.4 288.25 L819.4 288.12 L821.4 288.00 L823.4 287.91 L825.4 287.83 L827.4 287.77 L829.4 287.73 L831.4 287.71 L833.4 287.71 L835.4 287.72 L837.4 287.75 L839.4 287.79 L841.4 287.85 L843.4 287.93 L845.4 288.02 L847.4 288.12 L849.4 288.24 L851.4 288.37 L853.4 288.51 L855.4 288.66 L857.4 288.83 L859.4 289.00 L861.4 289.19 L863.4 289.39 L865.4 289.59 L867.4 289.80 L869.4 290.03 L871.4 290.26 L873.4 290.49 L875.4 290.73 L877.4 290.98 L879.4 291.24 L881.4 291.50 L883.4 291.76 L885.4 292.03 L887.4 292.29 L889.4 292.57 L891.4 292.84 L893.4 293.12 L895.4 293.39 L897.4 293.67 L899.4 293.95 L901.4 294.22 L903.4 294.50 L905.4 294.77 L907.4 295.04 L909.4 295.31 L911.4 295.57 L913.4 295.83 L915.4 296.08 L917.4 296.33 L919.4 296.58 L921.4 296.81 L923.4 297.04 L925.4 297.27 L927.4 297.48 L929.4 297.69 L931.4 297.89 L933.4 298.08 L935.4 298.25 L937.4 298.42 L939.4 298.58 L941.4 298.72 L943.4 298.86 L945.4 298.98 L947.4 299.08 L949.4 299.18 L951.4 299.26 L953.4 299.32 L955.4 299.37 L957.4 299.41 L959.4 299.43 L961.4 299.43 L963.4 299.42 L965.4 299.39 L967.4 299.34 L969.4 299.27 L971.4 299.18 L973.4 299.08 L975.4 298.96 L977.4 298.81 L979.4 298.65 L981.4 298.46 L983.4 298.26 L985.4 298.03 L987.4 297.78 L989.4 297.51 L991.4 297.22 L993.4 296.90 L995.4 296.57 L997.4 296.20 L999.4 295.82 L1001.4 295.41 L1003.4 294.98 L1005.4 294.52 L1007.4 294.04 L1009.4 293.53 L1011.4 293.00 L1013.4 292.44 L1015.4 291.85 L1017.4 291.24 L1019.4 290.61 L1021.4 289.94 L1023.4 289.26 L1025.4 288.54 L1027.4 287.80 L1029.4 287.03 L1031.4 286.23 L1033.4 285.41 L1035.4 284.56 L1037.4 283.68 L1039.4 282.77 L1041.4 281.83 L1043.4 280.87 L1045.4 279.88 L1047.4 278.86 L1049.4 277.82 L1051.4 276.74 L1053.4 275.64 L1055.4 274.51 L1057.4 273.35 L1059.4 272.17 L1061.4 270.96 L1063.4 269.71 L1065.4 268.44 L1067.4 267.15 L1069.4 265.82 L1071.4 264.47 L1073.4 263.09 L1075.4 261.68 L1077.4 260.25 L1079.4 258.79 L1081.4 257.30 L1083.4 255.79 L1085.4 254.25 L1087.4 252.68 L1089.4 251.08 L1091.4 249.47 L1093.4 247.82 L1095.4 246.15 L1097.4 244.46 L1099.4 242.73 L1101.4 240.99 L1103.4 239.22 L1105.4 237.43 L1107.4 235.61 L1109.4 233.77 L1111.4 231.91 L1113.4 230.03 L1115.4 228.12 L1117.4 226.19 L1119.4 224.24 L1121.4 222.27 L1123.4 220.28 L1125.4 218.26 L1127.4 216.23 L1129.4 214.18 L1131.4 212.11 L1133.4 210.03 L1135.4 207.92 L1137.4 205.80 L1139.4 203.66 L1141.4 201.50 L1143.4 199.33 L1145.4 197.15 L1147.4 194.95 L1149.4 192.73 L1151.4 190.51 L1153.4 188.27 L1155.4 186.01 L1157.4 183.75 L1159.4 181.48 L1161.4 179.19 L1163.4 176.90 L1165.4 174.59 L1167.4 172.28 L1169.4 169.96 L1171.4 167.64 L1173.4 165.30 L1175.4 162.97 L1177.4 160.62 L1179.4 158.28 L1181.4 155.93 L1183.4 153.58 L1185.4 151.22 L1187.4 148.87 L1189.4 146.51 L1191.4 144.16 L1193.4 141.80 L1195.4 139.45 L1197.4 137.10 L1199.4 134.76 L1201.4 132.42 L1203.4 130.08 L1205.4 127.75 L1207.4 125.43 L1209.4 123.11 L1211.4 120.81 L1213.4 118.51 L1215.4 116.22 L1217.4 113.95 L1219.4 111.68 L1221.4 109.43 L1223.4 107.20 L1225.4 104.97 L1227.4 102.76 L1229.4 100.57 L1231.4 98.40 L1233.4 96.24 L1235.4 94.11 L1237.4 91.99 L1239.4 89.89 L1241.4 87.82 L1243.4 85.76 L1245.4 83.73 L1247.4 81.73 L1249.4 79.75 L1251.4 77.79 L1253.4 75.86 L1255.4 73.96 L1257.4 72.09 L1259.4 70.25 L1261.4 68.44 L1263.4 66.66 L1265.4 64.91 L1267.4 63.19 L1269.4 61.51 L1271.4 59.87 L1273.4 58.26 L1275.4 56.68 L1277.4 55.14 L1279.4 53.65 L1281.4 52.19 L1283.4 50.77 L1285.4 49.39 L1287.4 48.05 L1289.4 46.76 L1291.4 45.51 L1293.4 44.30 L1295.4 43.14 L1297.4 42.02 L1299.4 40.95 L1301.4 39.93 L1303.4 38.96 L1305.4 38.04 L1307.4 37.16 L1309.4 36.34 L1311.4 35.57 L1313.4 34.85 L1315.4 34.19 L1317.4 33.57 L1319.4 33.02 L1321.4 32.52 L1323.4 32.07 L1325.4 31.68 L1327.4 31.35 L1329.4 31.08 L1331.4 30.87 L1333.4 30.71 L1335.4 30.62 L1337.4 30.59 L1339.4 30.62 L1341.4 30.71 L1343.4 30.87 L1345.4 31.09 L1347.4 31.37 L1349.4 31.72 L1351.4 32.14 L1353.4 32.62 L1355.4 33.17 L1357.4 33.79 L1359.4 34.48 L1361.4 35.23 L1363.4 36.06 L1365.4 36.95 L1367.4 37.92 L1369.4 38.96 L1371.4 40.07 L1373.4 41.25 L1375.4 42.51 L1377.4 43.83 L1379.4 45.24 L1381.4 46.71 L1383.4 48.27 L1385.4 49.90 L1387.4 51.60 L1389.4 53.38 L1391.4 55.24 L1393.4 57.18 L1395.4 59.20 L1397.4 61.29 L1399.4 63.46 L1401.4 65.72 L1403.4 68.05 L1405.4 70.47 L1407.4 72.96 L1409.4 75.54 L1411.4 78.20 L1413.4 80.95 L1415.4 83.77 L1417.4 86.68 L1419.4 89.68 L1421.4 92.76 L1423.4 95.92 L1425.4 99.17 L1427.6 102.85"/>
</g>
</g>
<g shape-rendering="crispEdges">
<rect x="732.4" y="424.5" width="597.3" height="386.7" fill="#fff" stroke="#262626" stroke-width="4.8"/>
<path d="M770 481.3 H988" stroke="#0000ff" stroke-width="9"/>
<path d="M770 572.5 H988" stroke="#ff00ff" stroke-width="9" stroke-dasharray="55 32"/>
<path d="M770 663.7 H988" stroke="#00ff00" stroke-width="9" stroke-dasharray="55 32"/>
<path d="M770 754.9 H988" stroke="#ff0000" stroke-width="9" stroke-dasharray="55 32"/>
</g>
<g font-size="60" fill="#000" stroke="#000" stroke-width="1" stroke-linejoin="round">
<text transform="translate(1002.5 502.7) scale(0.985 1)">Original</text>
<text transform="translate(1002.5 594.1) scale(0.985 1)">Gauss</text>
<text transform="translate(1002.5 685.5) scale(0.985 1)">Polynomial</text>
<text transform="translate(1002.5 776.9) scale(0.985 1)">Fourier</text>
</g>
</svg>
</body></html>
